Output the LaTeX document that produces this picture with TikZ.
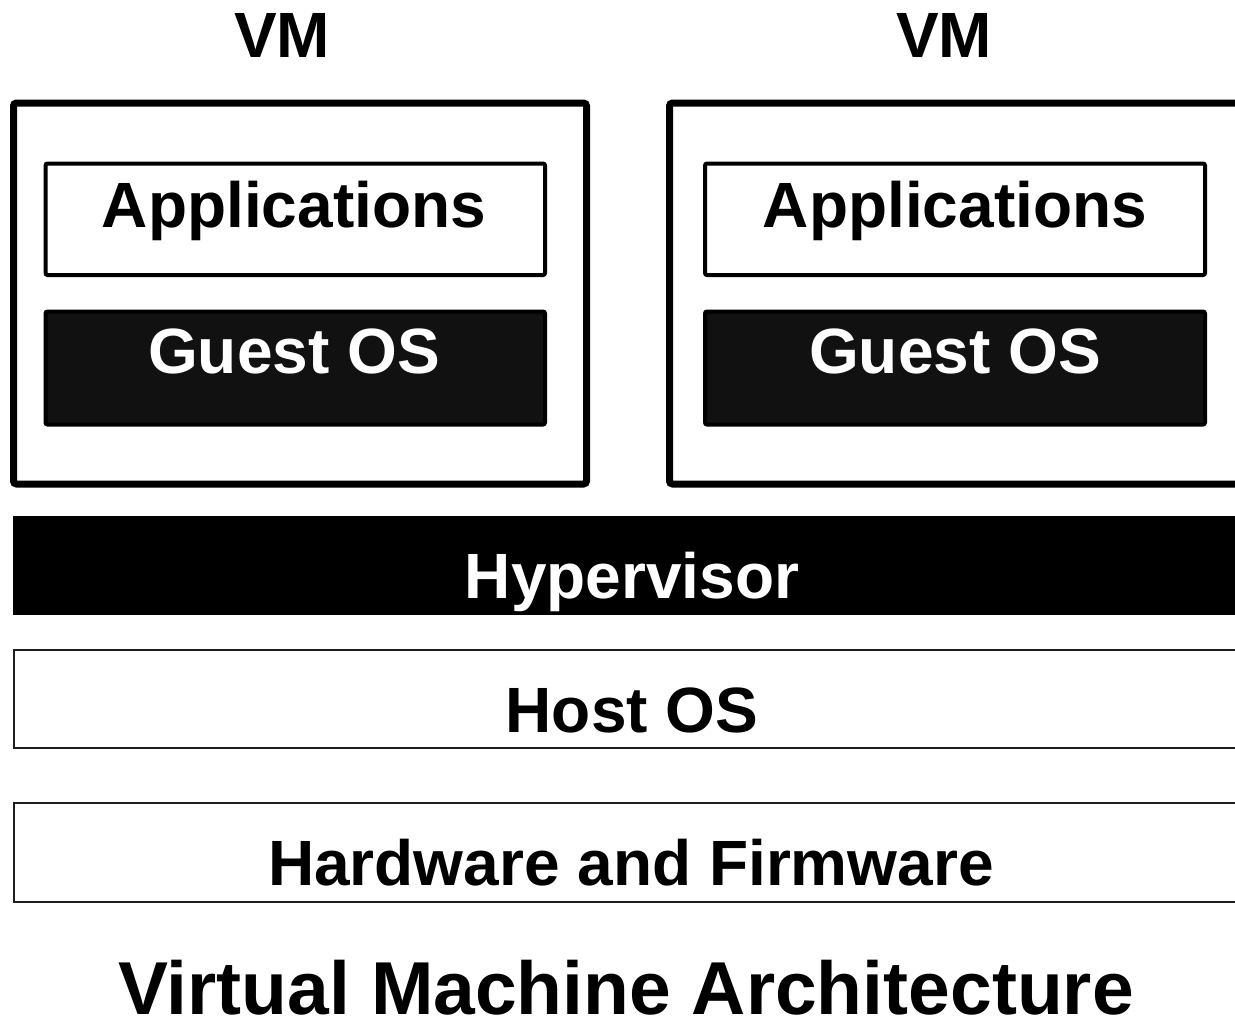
\documentclass[tikz,border=0pt]{standalone}
\usepackage{fontspec}
\setmainfont{Liberation Sans}
\begin{document}
\begin{tikzpicture}[x=1pt,y=-1pt,
  every node/.style={inner sep=0pt,outer sep=0pt},
  vmbox/.style={draw=black,line width=7pt,rounded corners=3pt,fill=white},
  appbox/.style={draw=black,line width=4pt,rounded corners=2pt,fill=white},
  osbox/.style={draw=black,line width=4pt,rounded corners=2pt,fill={rgb,255:red,17;green,17;blue,17}},
  hvbox/.style={fill=black},
  layerbox/.style={draw={rgb,255:red,30;green,30;blue,30},line width=2pt,fill=white},
  lbl/.style={anchor=base,font=\bfseries\fontsize{64}{70}\selectfont},
  ttl/.style={anchor=base,text depth=0pt,font=\bfseries\fontsize{75}{80}\selectfont}]
\useasboundingbox (0,0) rectangle (1235,1018);
\clip (0,0) rectangle (1235,1018);
\fill[white] (0,0) rectangle (1235,1018);

% virtual machine frames
\node[vmbox,minimum width=573pt,minimum height=381pt] (vmL) at (300,293.5) {};
\node[vmbox,minimum width=580.5pt,minimum height=381pt] (vmR) at (959.75,293.5) {};
\node[lbl] (vmLt) at (282,57) {VM};
\node[lbl] (vmRt) at (944,57) {VM};

% applications and guest OS inside each VM
\node[appbox,minimum width=499.5pt,minimum height=111.5pt] (appL) at (295.25,219.25) {};
\node[appbox,minimum width=500pt,minimum height=111.5pt] (appR) at (955,219.25) {};
\node[osbox,minimum width=499.5pt,minimum height=113pt] (gosL) at (295.25,368) {};
\node[osbox,minimum width=500pt,minimum height=113pt] (gosR) at (955,368) {};
\node[lbl] (appLt) at (294,227) {Applications};
\node[lbl] (appRt) at (955,227) {Applications};
\node[lbl,text=white] (gosLt) at (294,373) {Guest OS};
\node[lbl,text=white] (gosRt) at (955,373) {Guest OS};

% shared layers
\node[hvbox,minimum width=1237pt,minimum height=99pt] (hv) at (631.5,565.5) {};
\node[lbl,text=white] (hvt) at (632,598) {Hypervisor};
\node[layerbox,minimum width=1236pt,minimum height=98pt] (host) at (632,699) {};
\node[lbl] (hostt) at (632,732) {Host OS};
\node[layerbox,minimum width=1236pt,minimum height=99pt] (hw) at (632,852.5) {};
\node[lbl] (hwt) at (631,885) {Hardware and Firmware};

% caption
\node[ttl] (title) at (626,1014) {Virtual Machine Architecture};
\end{tikzpicture}
\end{document}
